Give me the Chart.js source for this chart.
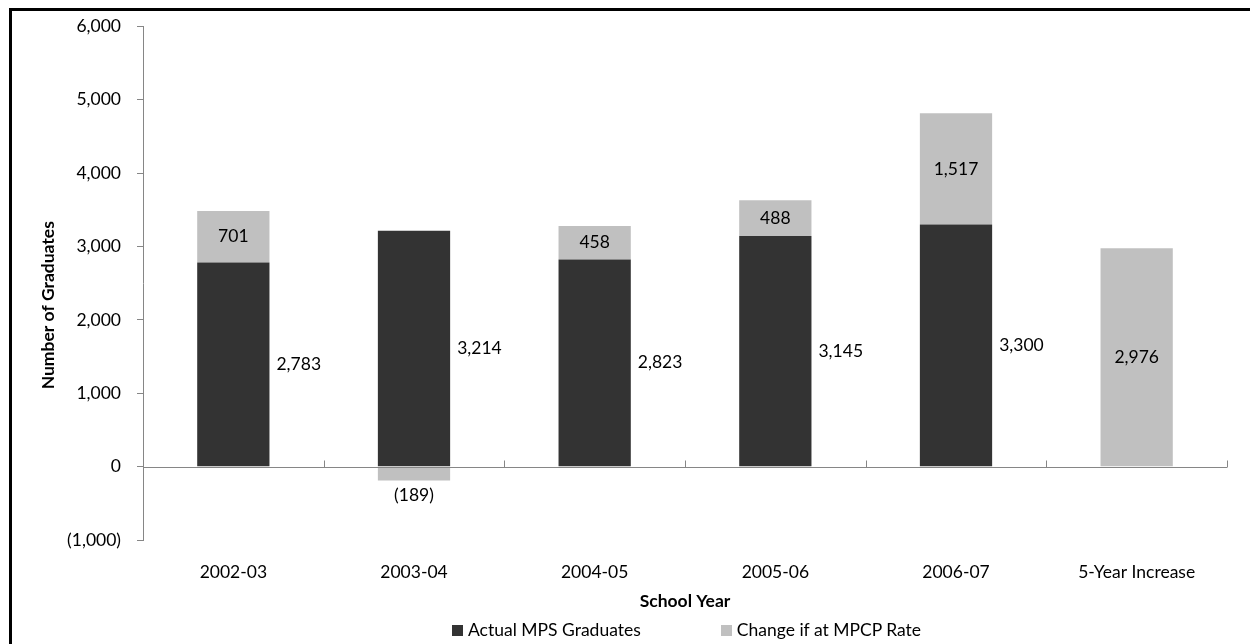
<!DOCTYPE html>
<html>
<head>
<meta charset="utf-8">
<script src="https://cdn.jsdelivr.net/npm/chart.js@4"></script>
<style>
  html, body { margin: 0; padding: 0; background: #fff; }
  #wrap { position: relative; width: 1250px; height: 644px; overflow: hidden; font-family: Lato, sans-serif; }
  #frame { position: absolute; left: 9px; top: 8px; width: 1300px; height: 700px;
           border-left: 3px solid #000; border-top: 3px solid #000; pointer-events: none; }
  #legend { position: absolute; left: 452px; top: 619px; display: flex;
            gap: 80px; font-size: 17.5px; color: #000; white-space: nowrap; }
  #legend span.box { display: inline-block; width: 11px; height: 11px; margin-right: 5px; vertical-align: 0px; }
</style>
</head>
<body>
<div id="wrap">
  <canvas id="gradChart" width="1250" height="644"></canvas>
  <div id="legend">
    <div><span class="box" style="background:#333333"></span>Actual MPS Graduates</div>
    <div><span class="box" style="background:#c0c0c0"></span>Change if at MPCP Rate</div>
  </div>
  <div id="frame"></div>
</div>
<script>
const schoolYears = ['2002-03', '2003-04', '2004-05', '2005-06', '2006-07', '5-Year Increase'];
const actualGraduates = [2783, 3214, 2823, 3145, 3300, null];
const mpcpChange = [701, -189, 458, 488, 1517, 2976];
const yTicks = [-1000, 0, 1000, 2000, 3000, 4000, 5000, 6000];

const axisGray = '#868686';
const fontFamily = 'Lato, sans-serif';
const fontSize = 17.5;

function fmt(v) {
    const s = Math.abs(v).toLocaleString('en-US');
    return v < 0 ? '(' + s + ')' : s;
}

// zero line with upward ticks between categories
const zeroAxis = {
    id: 'zeroAxis',
    afterDatasetsDraw(chart) {
        const { ctx, chartArea, scales } = chart;
        const y0 = Math.round(scales.y.getPixelForValue(0)) + 0.5;
        ctx.save();
        ctx.strokeStyle = axisGray;
        ctx.lineWidth = 1;
        ctx.beginPath();
        ctx.moveTo(chartArea.left, y0);
        ctx.lineTo(chartArea.right, y0);
        for (let i = 1; i <= schoolYears.length; i++) {
            const xb = Math.round(scales.x.getPixelForValue(i - 0.5)) + 0.5;
            ctx.moveTo(xb, y0);
            ctx.lineTo(xb, y0 - 7);
        }
        ctx.stroke();
        ctx.restore();
    }
};

// y axis title, sitting a little below the middle of the plot
const yTitle = {
    id: 'yTitle',
    afterDraw(chart) {
        const { ctx, chartArea } = chart;
        ctx.save();
        ctx.translate(48, (chartArea.top + chartArea.bottom) / 2 + 22);
        ctx.rotate(-Math.PI / 2);
        ctx.font = 'bold ' + fontSize + 'px ' + fontFamily;
        ctx.fillStyle = '#000';
        ctx.textAlign = 'center';
        ctx.textBaseline = 'middle';
        ctx.fillText('Number of Graduates', 0, 0);
        ctx.restore();
    }
};

// value labels: dark series to the right, light series inside (or below when negative)
const valueLabels = {
    id: 'valueLabels',
    afterDraw(chart) {
        const { ctx } = chart;
        ctx.save();
        ctx.font = fontSize + 'px ' + fontFamily;
        ctx.fillStyle = '#000';
        ctx.textBaseline = 'middle';
        chart.data.datasets.forEach((ds, di) => {
            const meta = chart.getDatasetMeta(di);
            meta.data.forEach((el, i) => {
                const v = ds.data[i];
                if (v === null || v === 0) return;
                if (di === 0) {
                    ctx.textAlign = 'left';
                    ctx.fillText(fmt(v), el.x + el.width / 2 + 7, (el.y + el.base) / 2);
                } else if (v < 0) {
                    ctx.textAlign = 'center';
                    ctx.fillText(fmt(v), el.x, Math.max(el.y, el.base) + 15);
                } else {
                    ctx.textAlign = 'center';
                    ctx.fillText(fmt(v), el.x, (el.y + el.base) / 2);
                }
            });
        });
        ctx.restore();
    }
};

const ctx = document.getElementById('gradChart').getContext('2d');
new Chart(ctx, {
    type: 'bar',
    data: {
        labels: schoolYears,
        datasets: [{
            label: 'Actual MPS Graduates',
            data: actualGraduates,
            backgroundColor: '#333333',
            categoryPercentage: 0.8,
            barPercentage: 0.5
        }, {
            label: 'Change if at MPCP Rate',
            data: mpcpChange,
            backgroundColor: '#c0c0c0',
            categoryPercentage: 0.8,
            barPercentage: 0.5
        }]
    },
    options: {
        responsive: false,
        animation: false,
        layout: { padding: { left: 34, right: 23, top: 25, bottom: 28 } },
        plugins: {
            legend: { display: false },
            tooltip: { enabled: false }
        },
        scales: {
            x: {
                stacked: true,
                grid: { display: false, drawTicks: false },
                border: { display: false },
                ticks: { color: '#000', padding: 22, font: { family: fontFamily, size: fontSize } },
                title: { display: true, text: 'School Year', color: '#000',
                         font: { family: fontFamily, size: fontSize, weight: 'bold' } },
                afterFit(scale) { scale.height = 76; }
            },
            y: {
                stacked: true,
                min: -1000,
                max: 6000,
                afterBuildTicks(scale) { scale.ticks = yTicks.map(v => ({ value: v })); },
                grid: { drawOnChartArea: false, drawTicks: true, tickLength: 6, color: axisGray },
                border: { display: true, color: axisGray },
                ticks: { color: '#000', padding: 16, font: { family: fontFamily, size: fontSize },
                         callback: v => fmt(v) },
                afterFit(scale) { scale.width = 109; }
            }
        }
    },
    plugins: [zeroAxis, yTitle, valueLabels]
});
</script>
</body>
</html>
